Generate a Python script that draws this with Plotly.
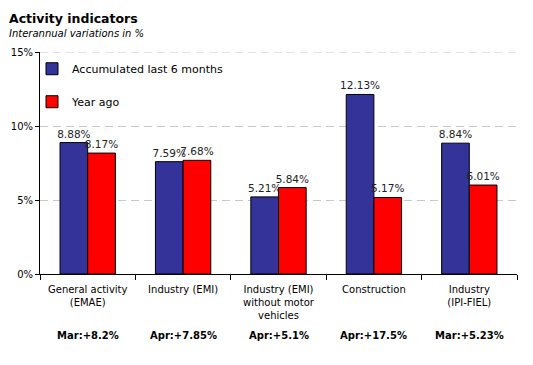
import plotly.graph_objects as go

categories = ["General activity<br>(EMAE)", "Industry (EMI)", "Industry (EMI)<br>without motor<br>vehicles",
              "Construction", "Industry<br>(IPI-FIEL)"]
latest = ["Mar:+8.2%", "Apr:+7.85%", "Apr:+5.1%", "Apr:+17.5%", "Mar:+5.23%"]
accum_6m = [8.88, 7.59, 5.21, 12.13, 8.84]
year_ago = [8.17, 7.68, 5.84, 5.17, 6.01]
y_ticks = [0, 5, 10, 15]

FONT = "DejaVu Sans"
GRID_DASH = "8px,5px"

fig = go.Figure()
fig.add_trace(go.Bar(
    x=categories, y=accum_6m, name="Accumulated last 6 months", legendgroup="a",
    marker=dict(color="#333399", line=dict(color="#000000", width=1)),
    text=[f"{v:.2f}%" for v in accum_6m], textposition="outside", cliponaxis=False,
    constraintext="none",
    textfont=dict(family=FONT, size=10.5, color="#222222"),
))
fig.add_trace(go.Bar(
    x=categories, y=year_ago, name="Year ago", legendgroup="b",
    marker=dict(color="#FF0000", line=dict(color="#000000", width=1)),
    text=[f"{v:.2f}%" for v in year_ago], textposition="outside", cliponaxis=False,
    constraintext="none",
    textfont=dict(family=FONT, size=10.5, color="#222222"),
))

fig.update_layout(
    width=533, height=365,
    margin=dict(l=40, r=16, t=52, b=91),
    paper_bgcolor="white", plot_bgcolor="white",
    barmode="group", bargap=0.42, bargroupgap=0,
    font=dict(family=FONT, size=10, color="#000000"),
    showlegend=True,
    legend=dict(x=-8/477, y=0.99, xanchor="left", yanchor="top", bgcolor="rgba(0,0,0,0)",
                font=dict(family=FONT, size=11, color="#000000"), tracegroupgap=14,
                itemwidth=30),
    xaxis=dict(showline=True, linecolor="#000000", linewidth=1, ticks="outside",
               tickson="boundaries", ticklen=5, tickcolor="#000000", ticklabelstandoff=6,
               tickfont=dict(family=FONT, size=10, color="#000000")),
    yaxis=dict(range=[0, 15], tickvals=y_ticks, ticktext=[f"{v}%" for v in y_ticks],
               showline=True, linecolor="#000000", linewidth=1, ticks="outside", ticklen=4,
               tickcolor="#000000", showgrid=True, gridcolor="#c8c8c8", griddash=GRID_DASH,
               gridwidth=1, zeroline=False,
               tickfont=dict(family=FONT, size=10, color="#000000")),
)

# top gridline (Plotly drops the gridline at the range edge)
fig.add_hline(y=y_ticks[-1], line=dict(color="#c8c8c8", width=1, dash=GRID_DASH), layer="below")

fig.add_annotation(text="<b>Activity indicators</b>", xref="paper", yref="paper",
                   x=-33/477, y=1 + 34/222, xanchor="left", yanchor="middle", showarrow=False,
                   font=dict(family=FONT, size=12.5, color="#000000"))
fig.add_annotation(text="<i>Interannual variations in %</i>", xref="paper", yref="paper",
                   x=-33/477, y=1 + 19/222, xanchor="left", yanchor="middle", showarrow=False,
                   font=dict(family=FONT, size=10, color="#000000"))
for c, t in zip(categories, latest):
    fig.add_annotation(text=f"<b>{t}</b>", x=c, xref="x", yref="paper", y=-61/222,
                       yanchor="middle", showarrow=False,
                       font=dict(family=FONT, size=10, color="#000000"))

fig.write_html("out.html", config={"displayModeBar": False},
               post_script="document.body.style.margin='0px';")
